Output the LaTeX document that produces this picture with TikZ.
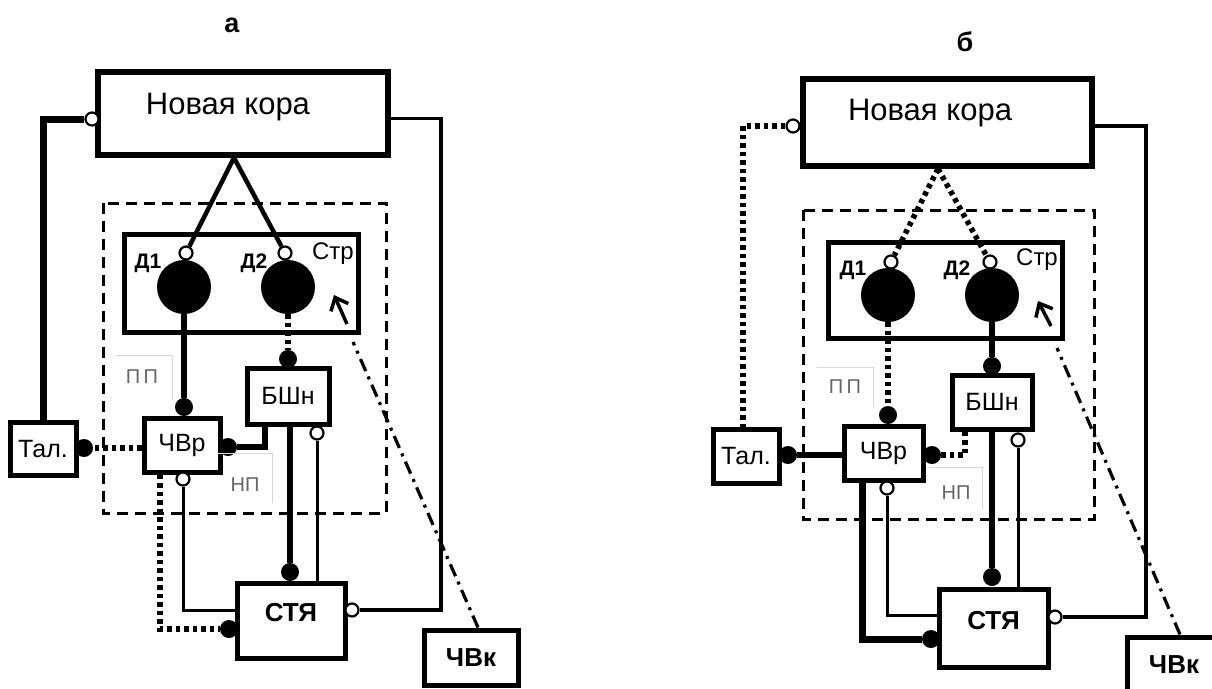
\documentclass[tikz,border=0pt]{standalone}
\usepackage{fontspec}
\setmainfont{Liberation Sans}
\usetikzlibrary{arrows.meta}

\begin{document}
\begin{tikzpicture}[
    x=1pt, y=-1pt,
    box/.style={
        draw,
        rectangle,
        line width=5pt,
        inner sep=0pt,
        align=center
    },
    region/.style={
        line width=3pt,
        dash pattern=on 11pt off 7pt
    },
    nucleus/.style={circle, fill, inner sep=0pt, minimum size=54pt},
    dot/.style={circle, fill, inner sep=0pt, minimum size=18pt},
    odot/.style={circle, draw, fill=white, line width=2.2pt, inner sep=0pt, minimum size=13pt},
    thickline/.style={line width=6.5pt},
    thinline/.style={line width=3pt},
    dotline/.style={line width=5.5pt, dash pattern=on 4.5pt off 4pt},
    dashdotline/.style={line width=3.2pt, dash pattern=on 13pt off 6pt on 3pt off 6pt},
    pointer/.style={
        -{Straight Barb[length=11pt,width=19pt]},
        line width=3.5pt
    },
    frame/.style={line width=1pt, draw=gray!30},
    tag/.style={font=\fontsize{20}{22}\selectfont, text=black!60},
    title/.style={font=\fontsize{27}{30}\selectfont\bfseries},
    kora/.style={font=\fontsize{31}{36}\selectfont},
    lbl/.style={font=\fontsize{25}{28}\selectfont},
    blbl/.style={font=\fontsize{26}{28}\selectfont\bfseries, text depth=16pt},
    dlbl/.style={font=\fontsize{21}{24}\selectfont\bfseries}
]
\useasboundingbox (0,0) rectangle (1212,688);

%%%%%%%%%%%%%%%%%%%% a %%%%%%%%%%%%%%%%%%%%
\node[title] (titA) at (232,25) {а};

% Cortex
\node[box, line width=5.5pt, minimum width=290pt, minimum height=83pt] (koraA) at (243,113.5) {};
\node[kora] (koraAtxt) at (228,107) {Новая кора};
\node[odot] (koraAin) at (92,119) {};

% Basal ganglia region
\draw[region] (103,203) rectangle (386,513);

% Striatum
\node[box, minimum width=234pt, minimum height=98pt] (strA) at (241,283) {};
\node[nucleus] (d1A) at (184,287) {};
\node[nucleus] (d2A) at (288,287) {};
\node[odot] (d1Ain) at (186,253) {};
\node[odot] (d2Ain) at (285,253) {};
\node[dlbl] (d1Albl) at (148,263) {Д1};
\node[dlbl] (d2Albl) at (254,263) {Д2};
\node[lbl, font=\fontsize{24}{26}\selectfont] (strAlbl) at (333,254) {Стр};

% Nuclei
\node[box, lbl, minimum width=82pt, minimum height=56pt] (bshA) at (288,396) {БШн};
\node[box, lbl, minimum width=76pt, minimum height=54pt] (chvrA) at (182,445) {ЧВр};
\node[box, lbl, minimum width=66pt, minimum height=53pt] (talA) at (43,449) {Тал.};
\node[box, blbl, minimum width=108pt, minimum height=75pt] (styA) at (291,620.5) {СТЯ};
\node[box, blbl, text depth=0pt, minimum width=94pt, minimum height=55pt] (chvkA) at (471,657.5) {ЧВк};

% Synapses
\node[dot] (bshAtop) at (288,359) {};
\node[dot] (chvrAtop) at (184,407) {};
\node[dot] (talAr) at (84,448) {};
\node[dot] (chvrAr) at (228,447) {};
\node[dot] (styAtop) at (290,572) {};
\node[dot] (styAl) at (229,629) {};
\node[odot] (bshAo) at (317,433) {};
\node[odot] (chvrAo) at (183,479) {};
\node[odot] (styAo) at (352,610) {};

% Labels
\draw[frame] (115,355) -| (172,400);
\node[tag] (ppA) at (142,377) {П\,П};
\draw[frame] (218,453) -| (272,503);
\node[tag] (npA) at (245,485) {НП};

% Connections
\draw[thickline, line width=7pt] (koraAin) -| (talA.north);
\draw[thinline, line width=3.5pt] ([yshift=-5pt]koraA.east) -- ++(50,0) |- (styAo);
\draw[line width=4.5pt] ([xshift=-9pt]koraA.south) -- (d1Ain);
\draw[line width=4.5pt] ([xshift=-9pt]koraA.south) -- (d2Ain);
\draw[thickline] (d1A) -- (chvrAtop);
\draw[dotline] (d2A) -- (bshAtop);
\draw[dotline] (chvrA.west |- talAr) -- (talAr);
\draw[thickline] (chvrAr) -| ([xshift=-23pt]bshA.south);
\draw[thickline] (bshA.south -| styAtop) -- (styAtop);
\draw[thinline] (bshAo) -- (bshAo |- styA.north);
\draw[thinline] (chvrAo) |- ([yshift=10pt]styA.west);
\draw[dotline] ([xshift=-22pt]chvrA.south) |- (styAl);

% Cerebellum to striatum
\coordinate (strAin) at (353,342);
\coordinate (strAtail) at (347,324);
\coordinate (strAtip) at (334,295);
\draw[dashdotline] ([xshift=7pt]chvkA.north) -- (strAin);
\draw[pointer] (strAtail) -- (strAtip);

%%%%%%%%%%%%%%%%%%%% b %%%%%%%%%%%%%%%%%%%%
\node[title] (titB) at (965,42) {б};

% Cortex
\node[box, line width=5.5pt, minimum width=289pt, minimum height=87pt] (koraB) at (947.5,122.5) {};
\node[kora] (koraBtxt) at (930,113) {Новая кора};
\node[odot] (koraBin) at (793,126) {};

% Basal ganglia region
\draw[region] (803,210) rectangle (1094,519);

% Striatum
\node[box, minimum width=234pt, minimum height=96pt] (strB) at (945,290) {};
\node[nucleus] (d1B) at (888,295) {};
\node[nucleus] (d2B) at (992,295) {};
\node[odot] (d1Bin) at (891,262) {};
\node[odot] (d2Bin) at (990,262) {};
\node[dlbl] (d1Blbl) at (853,270) {Д1};
\node[dlbl] (d2Blbl) at (957,270) {Д2};
\node[lbl, font=\fontsize{24}{26}\selectfont] (strBlbl) at (1037,260) {Стр};

% Nuclei
\node[box, lbl, minimum width=80pt, minimum height=54pt] (bshB) at (992,402) {БШн};
\node[box, lbl, minimum width=79pt, minimum height=54pt] (chvrB) at (883.5,453) {ЧВр};
\node[box, lbl, minimum width=66pt, minimum height=54pt] (talB) at (746,456) {Тал.};
\node[box, blbl, minimum width=109pt, minimum height=78pt] (styB) at (993.5,628) {СТЯ};
\node[box, blbl, text depth=0pt, minimum width=94pt, minimum height=55pt] (chvkB) at (1174,664.5) {ЧВк};

% Synapses
\node[dot] (bshBtop) at (992,366) {};
\node[dot] (chvrBtop) at (888,415) {};
\node[dot] (talBr) at (788,455) {};
\node[dot] (chvrBr) at (932,455) {};
\node[dot] (styBtop) at (992,577) {};
\node[dot] (styBl) at (931,639) {};
\node[odot] (bshBo) at (1018,440) {};
\node[odot] (chvrBo) at (887,488) {};
\node[odot] (styBo) at (1055,617) {};

% Labels
\draw[frame] (817,367) -| (873,407);
\node[tag] (ppB) at (845,387) {П\,П};
\draw[frame] (927,467) -| (982,510);
\node[tag] (npB) at (956,493) {НП};

% Connections
\draw[dotline] (koraBin) -| ([xshift=-3pt]talB.north);
\draw[thinline, line width=3.5pt] ([yshift=-3.5pt]koraB.east) -- ++(51,0) |- (styBo);
\draw[dotline] ([xshift=-9.5pt]koraB.south) -- (d1Bin);
\draw[dotline] ([xshift=-9.5pt]koraB.south) -- (d2Bin);
\draw[dotline] (d1B) -- (chvrBtop);
\draw[thickline] (d2B) -- (bshBtop);
\draw[thickline] (chvrB.west |- talBr) -- (talBr);
\draw[dotline] (chvrBr) -| ([xshift=-27pt]bshB.south);
\draw[thickline] (bshB.south) -- (styBtop);
\draw[thinline] (bshBo) -- (bshBo |- styB.north);
\draw[thinline] (chvrBo) |- ([yshift=13pt]styB.west);
\draw[thickline, line width=7pt] ([xshift=-21.5pt]chvrB.south) |- (styBl);

% Cerebellum to striatum
\coordinate (strBin) at (1057,348);
\coordinate (strBtail) at (1051,326);
\coordinate (strBtip) at (1038,301);
\draw[dashdotline] ([xshift=6pt]chvkB.north) -- (strBin);
\draw[pointer] (strBtail) -- (strBtip);

\end{tikzpicture}
\end{document}
